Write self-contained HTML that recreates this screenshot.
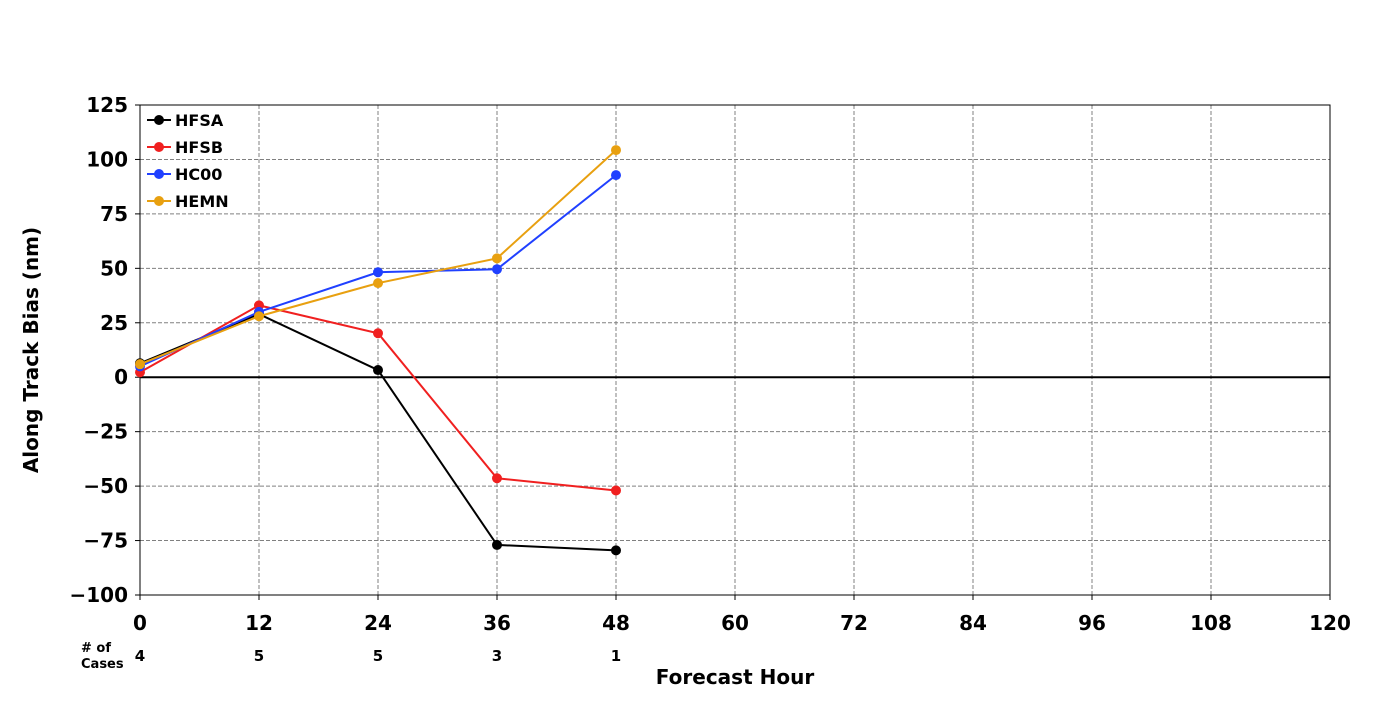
<!DOCTYPE html>
<html><head><meta charset="utf-8"><style>
body{margin:0;background:#fff;}
svg text{font-family:"DejaVu Sans","Liberation Sans",sans-serif;font-weight:bold;}
</style></head><body>
<svg id="chart" width="1400" height="700" xmlns="http://www.w3.org/2000/svg"></svg>
<script>
const hours=[0,12,24,36,48];
const xTicks=[0,12,24,36,48,60,72,84,96,108,120];
const yTicks=[-100,-75,-50,-25,0,25,50,75,100,125];
const cases=[4,5,5,3,1];
const seriesNames=["HFSA","HFSB","HC00","HEMN"];
const seriesColors=["#000000","#f02020","#2040ff","#e8a010"];
const hfsa=[6.4,29,3.3,-77,-79.5];
const hfsb=[2.3,33,20.2,-46.4,-52];
const hc00=[5,30,48.2,49.6,92.8];
const hemn=[6,28,43.2,54.6,104.3];
const seriesValues=[hfsa,hfsb,hc00,hemn];

const NS="http://www.w3.org/2000/svg";
const svg=document.getElementById('chart');
const L=140,R=1330,T=105,B=595;
const xs=v=>L+(v-0)/(120-0)*(R-L);
const ys=v=>B-(v+100)/225*(B-T);
function mk(tag,attrs,parent){const e=document.createElementNS(NS,tag);for(const k in attrs)e.setAttribute(k,attrs[k]);(parent||svg).appendChild(e);return e;}

const grid=mk('g',{});


xTicks.forEach(t=>{if(t>0&&t<120){mk('line',{x1:xs(t),x2:xs(t),y1:T,y2:B,stroke:'#808080','stroke-dasharray':'4,2','stroke-width':1},grid);}});
yTicks.forEach(t=>{if(t!==0&&t>-100&&t<125){mk('line',{x1:L,x2:R,y1:ys(t),y2:ys(t),stroke:'#808080','stroke-dasharray':'4,2','stroke-width':1},grid);}});
const zl=mk('line',{x1:L,x2:R,y1:ys(0),y2:ys(0),stroke:'#000','stroke-width':2});


const frame=mk('rect',{x:L,y:T,width:R-L,height:B-T,fill:'none',stroke:'#000','stroke-width':1});



xTicks.forEach(t=>{
  mk('line',{x1:xs(t),x2:xs(t),y1:B,y2:B+5,stroke:'#000'});
  const tx=mk('text',{x:xs(t),y:B+35,'text-anchor':'middle','font-size':20});
  tx.textContent=t;
  
  
});
yTicks.forEach(t=>{
  mk('line',{x1:L-5,x2:L,y1:ys(t),y2:ys(t),stroke:'#000'});
  const tx=mk('text',{x:L-12,y:ys(t)+7,'text-anchor':'end','font-size':20});
  tx.textContent=t<0?'\u2212'+Math.abs(t):t;
  
  
});
hours.forEach((h,i)=>{
  const tx=mk('text',{x:xs(h),y:661,'text-anchor':'middle','font-size':15});
  tx.textContent=cases[i];
  
  
});
const c1=mk('text',{x:81,y:652,'font-size':13});c1.textContent='# of';


const c2=mk('text',{x:81,y:668,'font-size':13});c2.textContent='Cases';


const xt=mk('text',{x:735,y:684,'text-anchor':'middle','font-size':20});xt.textContent='Forecast Hour';


const yt=mk('text',{x:38,y:350,'text-anchor':'middle','font-size':20,transform:'rotate(-90 38 350)'});yt.textContent='Along Track Bias (nm)';



seriesValues.forEach((vals,si)=>{
  const g=mk('g',{});
  
  
  mk('polyline',{points:vals.map((v,i)=>xs(hours[i])+','+ys(v)).join(' '),fill:'none',stroke:seriesColors[si],'stroke-width':2},g);
  vals.forEach((v,i)=>{
    const c=mk('circle',{cx:xs(hours[i]),cy:ys(v),r:5,fill:seriesColors[si]},g);
    
    
  });
});

const lg=mk('g',{});


seriesNames.forEach((n,i)=>{
  const y=120+i*27;
  const e=mk('g',{},lg);
  
  
  mk('line',{x1:147,x2:171,y1:y,y2:y,stroke:seriesColors[i],'stroke-width':2},e);
  mk('circle',{cx:159,cy:y,r:5,fill:seriesColors[i]},e);
  const t=mk('text',{x:175,y:y+6,'font-size':16},e);t.textContent=n;
});
</script>
</body></html>
